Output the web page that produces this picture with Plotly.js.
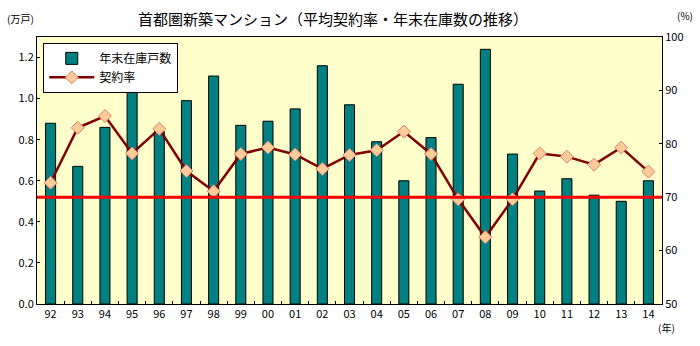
<!DOCTYPE html>
<html><head><meta charset="utf-8">
<script src="https://cdn.plot.ly/plotly-3.0.1.min.js"></script>
<style>html,body{margin:0;padding:0;background:#fff}#chart{width:700px;height:346px}</style>
</head><body><div id="chart"></div>
<script>
const years = ["92","93","94","95","96","97","98","99","00","01","02","03","04","05","06","07","08","09","10","11","12","13","14"];
const stock = [0.88,0.67,0.86,1.04,0.84,0.99,1.11,0.87,0.89,0.95,1.16,0.97,0.79,0.60,0.81,1.07,1.24,0.73,0.55,0.61,0.53,0.50,0.60];
const rate = [72.7,83.0,85.2,78.2,82.8,74.9,71.1,78.1,79.3,78.0,75.3,77.9,78.8,82.3,78.1,69.6,62.5,69.6,78.2,77.6,76.1,79.3,74.8];
const threshold = 70;
const stockName = "年末在庫戸数";
const rateName = "契約率";
const titleText = "首都圏新築マンション（平均契約率・年末在庫数の推移）";

const F = '"Noto Sans CJK JP", "Noto Sans", sans-serif';
const traces = [
  {type:"bar", x:years, y:stock, name:stockName, width:0.37,
   marker:{color:"#008080", line:{color:"#000", width:1}}},
  {type:"scatter", mode:"lines+markers", x:years, y:rate, yaxis:"y2", name:rateName,
   line:{color:"#800000", width:2.5},
   marker:{symbol:"diamond", size:10, color:"#FFCC99", line:{color:"#D9826A", width:1}}}
];
const layout = {
  width:700, height:346,
  margin:{l:37, r:38, t:37, b:42},
  paper_bgcolor:"#fff", plot_bgcolor:"#FFFFCC",
  font:{family:F, size:11, color:"#000"},
  showlegend:true,
  legend:{x:0.01, y:0.978, xanchor:"left", yanchor:"top", bgcolor:"#fff",
    bordercolor:"#000", borderwidth:1, font:{size:12}, tracegroupgap:0, itemwidth:45},
  bargap:0.6,
  xaxis:{type:"category", range:[-0.5, years.length-0.5], showline:true, linecolor:"#000", linewidth:1, mirror:true,
    ticks:"inside", ticklen:3, tickson:"boundaries", tickcolor:"#000",
    tickfont:{size:11}, showgrid:false, zeroline:false},
  yaxis:{range:[0,1.3], dtick:0.2, tickformat:".1f", showline:true, linecolor:"#000",
    ticks:"inside", ticklen:3, tickcolor:"#000", showgrid:false, zeroline:false,
    tickfont:{size:11}},
  yaxis2:{overlaying:"y", side:"right", range:[50,100], dtick:10, showline:true,
    linecolor:"#000", ticks:"inside", ticklen:3, tickcolor:"#000", showgrid:false,
    zeroline:false, tickfont:{size:11}},
  shapes:[{type:"line", xref:"paper", x0:0, x1:1, yref:"y2", y0:threshold, y1:threshold,
    line:{color:"#FF0000", width:3}, layer:"above"}],
  annotations:[
    {text:titleText, xref:"paper", yref:"paper", x:(333-37)/625, y:1, yshift:19,
     xanchor:"center", yanchor:"middle", showarrow:false, font:{size:15}},
    {text:"(万戸)", xref:"paper", yref:"paper", x:-0.052, y:1, yshift:19,
     xanchor:"left", yanchor:"middle", showarrow:false, font:{size:10}},
    {text:"(%)", xref:"paper", yref:"paper", x:1.02, y:1, yshift:22,
     xanchor:"left", yanchor:"middle", showarrow:false, font:{size:10}},
    {text:"(年)", xref:"paper", yref:"paper", x:0.99, y:0, yshift:-23,
     xanchor:"left", yanchor:"middle", showarrow:false, font:{size:10}}
  ]
};
Plotly.newPlot("chart", traces, layout, {displayModeBar:false, staticPlot:true});
</script></body></html>
